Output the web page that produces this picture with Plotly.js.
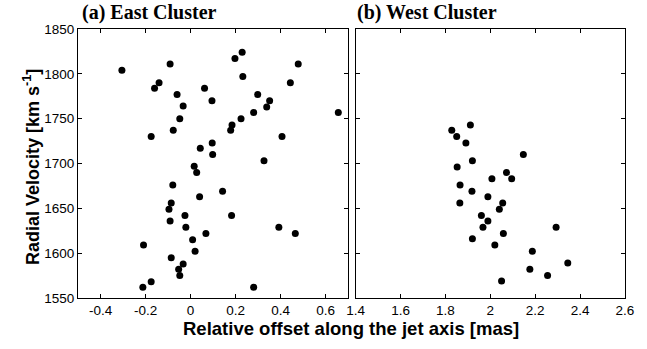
<!DOCTYPE html>
<html>
<head>
<meta charset="utf-8">
<script src="https://cdn.plot.ly/plotly-3.0.1.min.js"></script>
<style>html,body{margin:0;padding:0;background:#fff;}#chart{width:647px;height:349px;}</style>
</head>
<body>
<div id="chart"></div>
<script>
// East cluster (panel a)
const eastX = [-0.305,-0.091,-0.14,-0.16,0.062,-0.06,-0.033,-0.048,-0.077,-0.175,0.043,0.016,0.027,
  0.229,0.197,0.478,0.232,0.443,0.095,0.298,0.351,0.338,0.28,0.656,0.224,0.184,0.178,0.406,0.096,0.098,0.326,
  -0.079,0.04,-0.086,-0.096,-0.025,-0.091,-0.021,0.068,0.009,-0.209,0.02,-0.086,-0.033,-0.053,-0.048,-0.175,-0.212,
  0.142,0.182,0.392,0.465,0.28];
const eastY = [1804,1811,1790,1784,1784,1777,1764,1750,1737,1730,1717,1697,1690,
  1824,1817,1811,1797,1790,1770,1777,1770,1763,1757,1757,1750,1743,1737,1730,1723,1710,1703,
  1676,1663,1656,1649,1642,1636,1629,1622,1615,1609,1602,1595,1588,1582,1575,1568,1562,
  1669,1642,1629,1622,1562];
// West cluster (panel b)
const westX = [1.828,1.911,1.85,1.891,1.92,1.852,1.865,1.918,1.989,1.864,1.96,1.989,1.967,1.92,
  2.147,2.072,2.007,2.095,2.055,2.04,2.293,2.058,2.02,2.187,2.345,2.176,2.255,2.05];
const westY = [1737,1743,1730,1723,1703,1696,1676,1669,1663,1656,1642,1636,1629,1616,
  1710,1690,1683,1683,1656,1649,1629,1622,1609,1602,1589,1582,1575,1569];

const panelTitles = ['(a) East Cluster', '(b) West Cluster'];
const xTitle = 'Relative offset along the jet axis [mas]';
const yTitle = 'Radial Velocity [km s<sup>-1</sup>]';
const yTicks = [1550,1600,1650,1700,1750,1800,1850];
const xTicksA = [-0.4,-0.2,0,0.2,0.4,0.6];
const xTicksB = [1.4,1.6,1.8,2,2.2,2.4,2.6];

const marker = {color:'#000', size:7, symbol:'circle'};
const traces = [
  {x:eastX, y:eastY, type:'scatter', mode:'markers', marker:marker, xaxis:'x', yaxis:'y', hoverinfo:'skip'},
  {x:westX, y:westY, type:'scatter', mode:'markers', marker:marker, xaxis:'x2', yaxis:'y2', hoverinfo:'skip'}
];

const tickFont = {family:'Liberation Sans, Arial, sans-serif', size:13.5, color:'#000'};
const axBase = {showline:true, linecolor:'#000', linewidth:1, mirror:'ticks', ticks:'inside',
  ticklen:4, tickwidth:1, tickcolor:'#000', showgrid:false, zeroline:false, tickfont:tickFont};

const layout = {
  width:647, height:349,
  margin:{l:78, r:22, t:29, b:51},
  paper_bgcolor:'#fff', plot_bgcolor:'#fff',
  showlegend:false,
  xaxis: Object.assign({}, axBase, {domain:[0,0.494], range:[-0.5,0.7], tickvals:xTicksA,
    ticktext:xTicksA.map(String), anchor:'y'}),
  yaxis: Object.assign({}, axBase, {range:[1550,1850], tickvals:yTicks, anchor:'x'}),
  xaxis2: Object.assign({}, axBase, {domain:[0.5077,1], range:[1.4,2.6], tickvals:xTicksB,
    ticktext:xTicksB.map(String), anchor:'y2'}),
  yaxis2: Object.assign({}, axBase, {range:[1550,1850], tickvals:yTicks, showticklabels:false, anchor:'x2'}),
  annotations: [
    {text:'<b>'+panelTitles[0]+'</b>', xref:'paper', yref:'paper', x:0.0037, y:1.06, xanchor:'left', yanchor:'middle',
      showarrow:false, font:{family:'Liberation Serif, Times New Roman, serif', size:20, color:'#000'}},
    {text:'<b>'+panelTitles[1]+'</b>', xref:'paper', yref:'paper', x:0.5064, y:1.06, xanchor:'left', yanchor:'middle',
      showarrow:false, font:{family:'Liberation Serif, Times New Roman, serif', size:20, color:'#000'}},
    {text:'<b>'+xTitle+'</b>', xref:'paper', yref:'paper', x:0.499, y:0, yshift:-30, xanchor:'center', yanchor:'middle',
      showarrow:false, font:{family:'Liberation Sans, Arial, sans-serif', size:18.5, color:'#000'}},
    {text:'<b>'+yTitle+'</b>', xref:'paper', yref:'paper', x:-0.085, y:0.485, xanchor:'center', yanchor:'middle',
      textangle:-90, showarrow:false, font:{family:'Liberation Sans, Arial, sans-serif', size:18, color:'#000'}}
  ]
};

Plotly.newPlot('chart', traces, layout, {staticPlot:true, displayModeBar:false});
</script>
</body>
</html>
